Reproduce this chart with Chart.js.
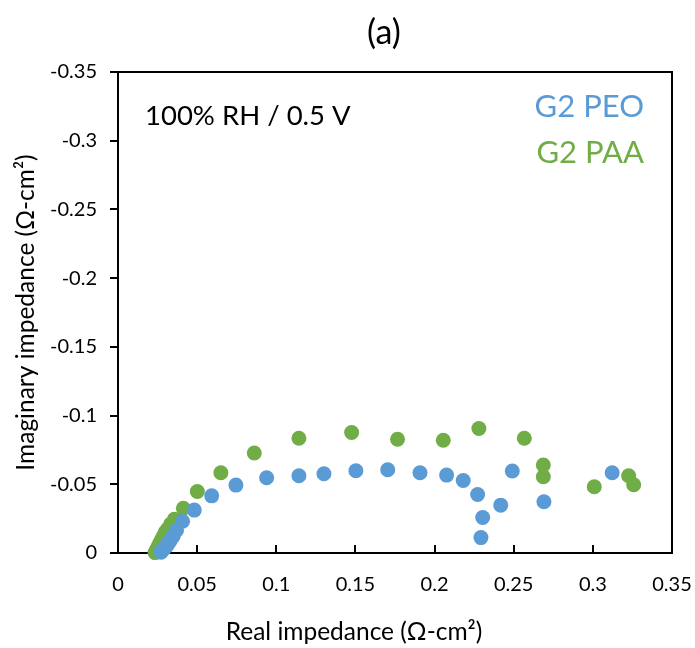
<!DOCTYPE html>
<html>
<head>
<meta charset="utf-8">
<script src="https://cdn.jsdelivr.net/npm/chart.js@4.4.1/dist/chart.umd.min.js"></script>
<style>
  html, body { margin: 0; padding: 0; background: #fff; overflow: hidden; }
  canvas { display: block; }
</style>
</head>
<body>
<canvas id="nyquist-chart" width="695" height="648"></canvas>
<script>
// Nyquist data, 100% RH / 0.5 V (Ω-cm²)
const peoRe = [0.0272, 0.0282, 0.0294, 0.0307, 0.0318, 0.0328, 0.0338, 0.0349, 0.0370, 0.0408,
  0.0482, 0.0592, 0.0745, 0.0939, 0.1143, 0.1301, 0.1503, 0.1704, 0.1908, 0.2076,
  0.2181, 0.2272, 0.2304, 0.2293, 0.2418, 0.2491, 0.2691, 0.3122];
const peoIm = [-0.0005, -0.0020, -0.0035, -0.0051, -0.0070, -0.0088, -0.0106, -0.0124, -0.0166, -0.0231,
  -0.0312, -0.0416, -0.0494, -0.0548, -0.0562, -0.0577, -0.0599, -0.0606, -0.0584, -0.0567,
  -0.0528, -0.0426, -0.0258, -0.0112, -0.0348, -0.0597, -0.0373, -0.0584];

const paaRe = [0.0234, 0.0244, 0.0255, 0.0265, 0.0276, 0.0287, 0.0298, 0.0312, 0.0333, 0.0356,
  0.0413, 0.0501, 0.0650, 0.0861, 0.1143, 0.1476, 0.1766, 0.2055, 0.2280, 0.2567,
  0.2687, 0.2687, 0.3009, 0.3226, 0.3258];
const paaIm = [-0.0003, -0.0027, -0.0050, -0.0075, -0.0100, -0.0124, -0.0150, -0.0173, -0.0210, -0.0246,
  -0.0326, -0.0448, -0.0584, -0.0728, -0.0835, -0.0877, -0.0828, -0.0820, -0.0906, -0.0835,
  -0.0640, -0.0555, -0.0482, -0.0562, -0.0497];

const seriesNames = ['G2 PEO', 'G2 PAA'];
const seriesColors = ['#5B9BD5', '#70AD47'];
const xTicks = [0, 0.05, 0.1, 0.15, 0.2, 0.25, 0.3, 0.35];
const yTicks = [0, -0.05, -0.1, -0.15, -0.2, -0.25, -0.3, -0.35];

const FONT = 'Lato, "Open Sans", sans-serif';

const toPoints = (re, im) => re.map((x, i) => ({ x: x, y: im[i] }));
const fmt = v => String(+v.toFixed(2));

// frame, inward x ticks, outward y ticks, and the text on the plot
const decor = {
  id: 'decor',
  beforeDatasetsDraw(chart) {
    const { ctx, chartArea: a, scales } = chart;
    ctx.save();
    ctx.strokeStyle = '#000';
    ctx.lineWidth = 2;
    ctx.strokeRect(a.left, a.top, a.right - a.left, a.bottom - a.top);
    ctx.beginPath();
    xTicks.forEach(v => {
      const px = Math.round(scales.x.getPixelForValue(v));
      ctx.moveTo(px, a.bottom);
      ctx.lineTo(px, a.bottom - 8);
    });
    yTicks.forEach(v => {
      const py = Math.round(scales.y.getPixelForValue(v));
      ctx.moveTo(a.left, py);
      ctx.lineTo(a.left - 8, py);
    });
    ctx.stroke();
    ctx.restore();
  },
  afterDraw(chart) {
    const { ctx, chartArea: a } = chart;
    ctx.save();
    ctx.textBaseline = 'middle';

    ctx.fillStyle = '#000';
    ctx.textAlign = 'center';
    ctx.font = '34px ' + FONT;
    ctx.fillText('(a)', 384, 33);

    ctx.font = '24.5px ' + FONT;
    ctx.fillText('Real impedance (Ω-cm²)', 354, 632);
    ctx.save();
    ctx.translate(26, (a.top + a.bottom) / 2);
    ctx.rotate(-Math.PI / 2);
    ctx.fillText('Imaginary impedance (Ω-cm²)', 0, 0);
    ctx.restore();

    ctx.textBaseline = 'alphabetic';
    ctx.textAlign = 'left';
    ctx.font = '27.5px ' + FONT;
    ctx.fillText('100% RH / 0.5 V', 145, 125);

    ctx.textAlign = 'right';
    ctx.font = '31px ' + FONT;
    chart.data.datasets.forEach((ds, i) => {
      ctx.fillStyle = ds.backgroundColor;
      ctx.fillText(ds.label, 644, 117 + i * 46);
    });
    ctx.restore();
  }
};

new Chart(document.getElementById('nyquist-chart'), {
  type: 'scatter',
  data: {
    datasets: [
      {
        label: seriesNames[0],
        data: toPoints(peoRe, peoIm),
        backgroundColor: seriesColors[0],
        borderWidth: 0,
        pointRadius: 7.5,
        clip: false
      },
      {
        label: seriesNames[1],
        data: toPoints(paaRe, paaIm),
        backgroundColor: seriesColors[1],
        borderWidth: 0,
        pointRadius: 7.5,
        clip: false
      }
    ]
  },
  options: {
    responsive: false,
    animation: false,
    events: [],
    layout: { padding: { left: 0, right: 23, top: 72, bottom: 0 } },
    plugins: {
      legend: { display: false },
      title: { display: false },
      tooltip: { enabled: false }
    },
    scales: {
      x: {
        type: 'linear',
        min: 0,
        max: 0.35,
        afterFit: s => {
          s.height = 95;
          s.paddingLeft = 0;
          s.paddingRight = 0;
        },
        afterBuildTicks: s => { s.ticks = xTicks.map(v => ({ value: v })); },
        grid: { display: false, drawTicks: false },
        border: { display: false },
        ticks: {
          padding: 20,
          color: '#000',
          font: { family: FONT, size: 20 },
          callback: fmt
        }
      },
      y: {
        type: 'linear',
        reverse: true,
        min: -0.35,
        max: 0,
        afterFit: s => {
          s.width = 118;
          s.paddingTop = 0;
          s.paddingBottom = 0;
        },
        afterBuildTicks: s => { s.ticks = yTicks.map(v => ({ value: v })); },
        grid: { display: false, drawTicks: false },
        border: { display: false },
        ticks: {
          padding: 21,
          color: '#000',
          font: { family: FONT, size: 20 },
          callback: fmt
        }
      }
    }
  },
  plugins: [decor]
});
</script>
</body>
</html>
